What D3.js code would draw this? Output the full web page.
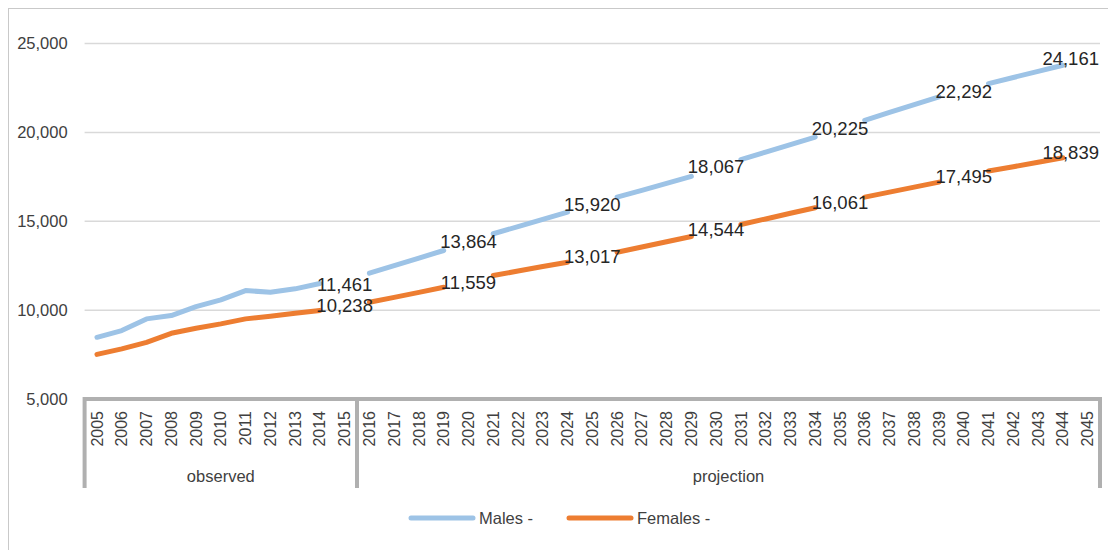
<!DOCTYPE html>
<html>
<head>
<meta charset="utf-8">
<script src="https://cdn.jsdelivr.net/npm/d3@7"></script>
<style>
  html, body { margin: 0; padding: 0; background: #ffffff; }
  svg { display: block; font-family: "Liberation Sans", Arial, sans-serif; }
</style>
</head>
<body>
<svg id="chart" width="1108" height="550"></svg>
<script>
// ---- data ----
const years = d3.range(2005, 2046).map(String);
const males = [8470, 8848, 9507, 9693, 10200, 10578, 11101, 11006, 11197, 11500,
  11461, 12076, 12500, 12930, 13355, 13864, 14296, 14700, 15110, 15513,
  15920, 16358, 16740, 17130, 17524, 18067, 18465, 18890, 19310, 19738,
  20225, 20679, 21120, 21560, 21992, 22292, 22746, 23090, 23430, 23777, 24161];
const females = [7510, 7817, 8189, 8696, 8977, 9225, 9507, 9653, 9822, 9975,
  10238, 10442, 10720, 11000, 11287, 11559, 11946, 12200, 12450, 12696,
  13017, 13259, 13550, 13850, 14144, 14544, 14820, 15130, 15450, 15760,
  16061, 16358, 16640, 16920, 17203, 17495, 17823, 18070, 18320, 18577, 18839];
const labelYears = ["2015", "2020", "2025", "2030", "2035", "2040", "2045"];
const yTicks = [5000, 10000, 15000, 20000, 25000];
const groupNames = ["observed", "projection"];
const groupStart = ["2005", "2016"];
const groupEnd = ["2015", "2045"];
const seriesNames = ["Males -", "Females -"];
const seriesColors = ["#9dc3e6", "#ed7d31"];

// ---- layout ----
const svg = d3.select("#chart");
const plotLeft = 84.6, plotRight = 1100, plotTop = 43.5, plotBottom = 399;
const textColor = "#404040";

// outer frame (only left and top edges are visible)
svg.append("rect").attr("x", 8.5).attr("y", 8.5).attr("width", 1300).attr("height", 800)
  .attr("fill", "none").attr("stroke", "#c9c9c9").attr("stroke-width", 1);

const x = d3.scaleBand().domain(years).range([plotLeft, plotRight]).paddingInner(0).paddingOuter(0);
const y = d3.scaleLinear().domain([5000, 25000]).range([plotBottom, plotTop]);
const cx = yr => x(yr) + x.bandwidth() / 2;

// gridlines
svg.append("g").selectAll("line").data(yTicks.slice(1)).join("line")
  .attr("x1", plotLeft).attr("x2", plotRight)
  .attr("y1", d => y(d)).attr("y2", d => y(d))
  .attr("stroke", "#d9d9d9").attr("stroke-width", 1.5);

// y axis labels
const yAxis = svg.append("g").attr("transform", `translate(${plotLeft},0)`)
  .call(d3.axisLeft(y).tickValues(yTicks).tickSize(0).tickPadding(17).tickFormat(d3.format(",")));
yAxis.select(".domain").remove();
yAxis.selectAll("text").attr("fill", textColor).style("font-size", "16.5px")
  .attr("font-family", "Liberation Sans, Arial, sans-serif");

// x axis (years)
const xAxis = svg.append("g").attr("transform", `translate(0,${plotBottom})`)
  .call(d3.axisBottom(x).tickSize(0));
xAxis.select(".domain").remove();
xAxis.selectAll("text")
  .attr("transform", "rotate(-90)")
  .attr("x", -12).attr("y", 0).attr("dy", "0.35em")
  .attr("text-anchor", "end")
  .attr("fill", textColor).style("font-size", "16px")
  .attr("font-family", "Liberation Sans, Arial, sans-serif");

// multi-level category brackets
const axisColor = "#b0b0b0";
const bracketBottom = 488;
svg.append("line").attr("x1", plotLeft).attr("x2", plotRight).attr("y1", plotBottom).attr("y2", plotBottom)
  .attr("stroke", axisColor).attr("stroke-width", 4);
const bounds = [x(groupStart[0])].concat(groupEnd.map(e => x(e) + x.bandwidth()));
svg.append("g").selectAll("line").data(bounds).join("line")
  .attr("x1", d => d).attr("x2", d => d)
  .attr("y1", plotBottom - 2).attr("y2", bracketBottom)
  .attr("stroke", axisColor).attr("stroke-width", 4);
svg.append("g").selectAll("text").data(groupNames).join("text")
  .attr("x", (d, i) => (x(groupStart[i]) + x(groupEnd[i]) + x.bandwidth()) / 2)
  .attr("y", 476).attr("dy", "0.35em").attr("text-anchor", "middle")
  .attr("fill", textColor).style("font-size", "16.5px")
  .text(d => d);

// lines
const seriesData = [males, females];
const line = d3.line()
  .defined(d => !labelYears.includes(d.year))
  .x(d => cx(d.year)).y(d => y(d.value));
seriesData.forEach((vals, si) => {
  const pts = years.map((yr, i) => ({ year: yr, value: vals[i] }));
  svg.append("path").datum(pts)
    .attr("d", line)
    .attr("fill", "none").attr("stroke", seriesColors[si]).attr("stroke-width", 5)
    .attr("stroke-linecap", "round").attr("stroke-linejoin", "round");
});

// data labels
seriesData.forEach((vals) => {
  labelYears.forEach(yr => {
    const i = years.indexOf(yr);
    const t = svg.append("text")
      .attr("x", cx(yr)).attr("y", y(vals[i])).attr("dy", "0.35em")
      .attr("text-anchor", "middle").attr("fill", "#262626")
      .style("font-size", "18.5px")
      .text(d3.format(",")(vals[i]));
    const w = t.node().getComputedTextLength();
    if (cx(yr) + w / 2 > plotRight - 1) {
      t.attr("x", plotRight - 1 - w / 2);
    }
  });
});

// legend
const legendX = [411, 569];
seriesNames.forEach((name, i) => {
  svg.append("line").attr("x1", legendX[i]).attr("x2", legendX[i] + 62)
    .attr("y1", 518).attr("y2", 518)
    .attr("stroke", seriesColors[i]).attr("stroke-width", 5).attr("stroke-linecap", "round");
  svg.append("text").attr("x", legendX[i] + 68).attr("y", 518).attr("dy", "0.35em")
    .attr("fill", textColor).style("font-size", "16.5px").text(name);
});
</script>
</body>
</html>
